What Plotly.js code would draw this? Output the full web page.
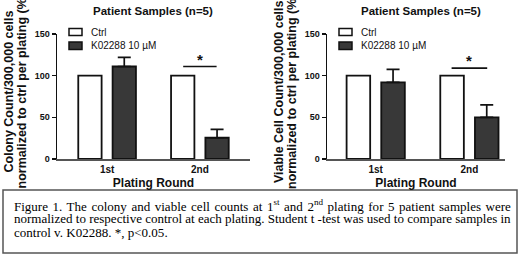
<!DOCTYPE html>
<html>
<head>
<meta charset="utf-8">
<script src="https://cdn.plot.ly/plotly-3.0.1.min.js"></script>
<style>html,body{margin:0;padding:0;background:#fff;}#chart{width:520px;height:256px;}</style>
</head>
<body>
<div id="chart"></div>
<script>
// ---- data ----
const rounds = ['1st', '2nd'];
const seriesNames = ['Ctrl', 'K02288 10 \u00b5M'];
const colonyCtrl = [100, 100];
const colonyK = [111, 25.5];
const colonyKErr = [11, 10];
const viableCtrl = [100, 100];
const viableK = [92, 50];
const viableKErr = [15.5, 15];
const yTicks = [0, 50, 100, 150];
const sigLevelColony = 111;
const sigLevelViable = 109;
const panelTitles = ['Patient Samples (n=5)', 'Patient Samples (n=5)'];
const yTitleLines = [
  ['Colony Count/300,000 cells', 'normalized to ctrl per plating (%)'],
  ['Viable Cell Count/300,000 cells', 'normalized to ctrl per plating (%)']
];
const xTitle = 'Plating Round';
const captionLines = [
  'Figure 1. The colony and viable cell counts at 1<sup>st</sup> and 2<sup>nd</sup> plating for 5 patient samples were',
  'normalized to respective control at each plating. Student t -test was used to compare samples in',
  'control v. K02288. *, p<0.05.'
];

// ---- styles ----
const SANS = 'Liberation Sans, Arial, sans-serif';
const SERIF = 'Liberation Serif, Times New Roman, serif';
const INK = '#111';
const KFILL = '#383838';
const W = 520, H = 256;
const px = v => v / W;
const py = v => 1 - v / H;
const b = s => '<b>' + s + '</b>';

const panels = [
  {xa: 'x', ya: 'y', ctrl: colonyCtrl, k: colonyK, err: colonyKErr, sig: sigLevelColony,
   axisX: 57, endX: 250, range: [-0.54, 1.54], sigSpan: [0.82, 1.18], titleX: 152.5,
   yTitleX: [8.5, 21.5]},
  {xa: 'x2', ya: 'y2', ctrl: viableCtrl, k: viableK, err: viableKErr, sig: sigLevelViable,
   axisX: 327, endX: 505, range: [-0.52, 1.38], sigSpan: [0.81, 1.19], titleX: 421,
   yTitleX: [279, 292]}
];

const data = [];
panels.forEach(p => {
  data.push({type: 'bar', x: rounds, y: p.ctrl, name: seriesNames[0], xaxis: p.xa, yaxis: p.ya,
    showlegend: false, marker: {color: '#ffffff', line: {color: INK, width: 1.8}}});
  data.push({type: 'bar', x: rounds, y: p.k, name: seriesNames[1], xaxis: p.xa, yaxis: p.ya,
    showlegend: false, marker: {color: KFILL, line: {color: INK, width: 1.8}},
    error_y: {type: 'data', symmetric: false, array: p.err, arrayminus: p.err.map(() => 0),
      color: INK, thickness: 1.7, width: 6.5}});
});

function xAxis(dom, rng) {
  return {domain: dom, range: rng, type: 'category', showline: true, linecolor: '#555', linewidth: 2,
    ticks: '', showgrid: false, zeroline: false,
    tickvals: rounds, ticktext: rounds.map(b),
    tickfont: {family: SANS, size: 10, color: INK},
    title: {text: b(xTitle), font: {family: SANS, size: 12, color: INK}, standoff: 5}};
}
function yAxis(dom, anchor) {
  return {domain: dom, range: [0, 150], anchor: anchor, tickvals: yTicks, ticktext: yTicks.map(v => b(String(v))),
    ticks: 'outside', ticklen: 4, tickwidth: 1.5, tickcolor: INK, showline: true, linecolor: INK, linewidth: 1.5,
    showgrid: false, zeroline: false,
    tickfont: {family: SANS, size: 9, color: INK}};
}

const yDom = [py(159), py(34)];
const shapes = [];
const annotations = [];

panels.forEach((p, pi) => {
  shapes.push({type: 'line', xref: p.xa, yref: p.ya, x0: p.sigSpan[0], x1: p.sigSpan[1], y0: p.sig, y1: p.sig,
    line: {color: INK, width: 1.6}});
  annotations.push({xref: p.xa, yref: p.ya, x: 1, y: p.sig, text: b('*'), showarrow: false, yanchor: 'bottom',
    font: {family: SANS, size: 15, color: INK}, yshift: -3});
  annotations.push({xref: 'paper', yref: 'paper', x: px(p.titleX), y: py(11), text: b(panelTitles[pi]),
    showarrow: false, xanchor: 'center', yanchor: 'middle', font: {family: SANS, size: 11.5, color: INK}});
  yTitleLines[pi].forEach((line, j) => {
    annotations.push({xref: 'paper', yref: 'paper', x: px(p.yTitleX[j]), y: py(92), text: b(line),
      textangle: -90, showarrow: false, xanchor: 'center', yanchor: 'middle',
      font: {family: SANS, size: 12.5, color: INK}});
  });
  const lx = p.axisX + 12;
  [[28.5, 35.5, '#ffffff'], [42, 49.5, KFILL]].forEach((r, j) => {
    shapes.push({type: 'rect', xref: 'paper', yref: 'paper', x0: px(lx), x1: px(lx + 13), y0: py(r[1]), y1: py(r[0]),
      fillcolor: r[2], line: {color: INK, width: 1.5}});
    annotations.push({xref: 'paper', yref: 'paper', x: px(lx + 20), y: py((r[0] + r[1]) / 2), text: seriesNames[j],
      showarrow: false, xanchor: 'left', yanchor: 'middle', font: {family: SANS, size: 10, color: INK}});
  });
});

shapes.push({type: 'rect', xref: 'paper', yref: 'paper', x0: px(3), x1: px(517), y0: py(253), y1: py(190),
  line: {color: '#555', width: 1.5}, fillcolor: '#fff', layer: 'above'});
const captionStart = annotations.length;
captionLines.forEach((t, i) => {
  annotations.push({xref: 'paper', yref: 'paper', x: px(12), y: py(205 + i * 13.7), text: t, showarrow: false,
    xanchor: 'left', yanchor: 'middle', align: 'left', font: {family: SERIF, size: 14, color: '#000'}});
});

const layout = {
  width: W, height: H,
  margin: {l: 0, r: 0, t: 0, b: 0},
  paper_bgcolor: '#fff', plot_bgcolor: 'rgba(0,0,0,0)',
  barmode: 'group', bargap: 0.26, bargroupgap: 0.32, showlegend: false,
  xaxis: xAxis([px(panels[0].axisX), px(panels[0].endX)], panels[0].range),
  yaxis: yAxis(yDom, 'x'),
  xaxis2: xAxis([px(panels[1].axisX), px(panels[1].endX)], panels[1].range),
  yaxis2: yAxis(yDom, 'x2'),
  shapes: shapes,
  annotations: annotations
};

Plotly.newPlot('chart', data, layout, {displayModeBar: false, staticPlot: true}).then(gd => {
  // one common caption size that lets the longest line fit, then justify lines 1-2
  const rightEdge = 511;
  const els = captionLines.map((_, i) =>
    gd.querySelector('.annotation[data-index="' + (captionStart + i) + '"] text.annotation-text'));
  if (els.some(e => !e)) return;
  const box = e => e.getBoundingClientRect();
  const fs = parseFloat(getComputedStyle(els[0]).fontSize);
  let scale = 1;
  els.forEach(e => {
    const r = box(e);
    scale = Math.min(scale, (rightEdge - r.left) / (r.right - r.left));
  });
  if (scale < 1) els.forEach(e => { e.style.fontSize = (fs * scale).toFixed(2) + 'px'; });
  [0, 1].forEach(i => {
    const el = els[i];
    const gaps = (captionLines[i].replace(/<[^>]+>/g, '').match(/ +/g) || []).length;
    let ws = 0;
    for (let k = 0; k < 4; k++) {
      ws += (rightEdge - box(el).right) / gaps;
      ws = Math.max(0, Math.min(8, ws));
      el.style.wordSpacing = ws.toFixed(2) + 'px';
    }
  });
});
</script>
</body>
</html>
